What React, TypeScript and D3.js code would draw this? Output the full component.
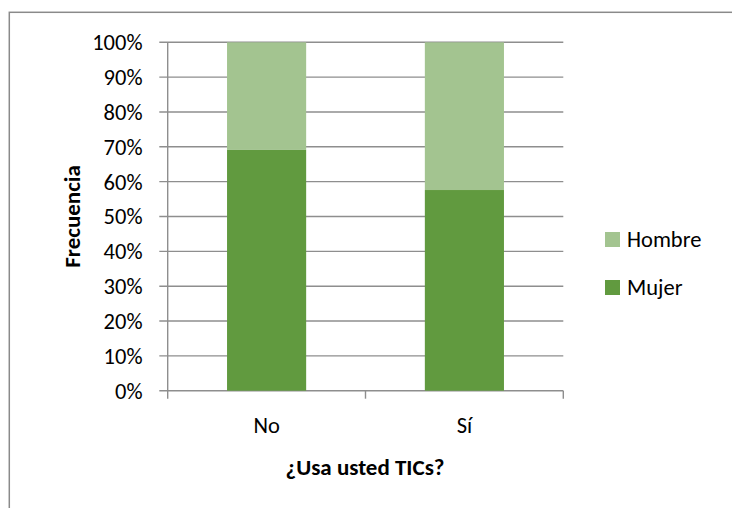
import React from "react";
import * as d3 from "d3";

const categories = ["No", "Sí"];
const seriesNames = ["Mujer", "Hombre"];
const mujer = [0.691, 0.576];
const hombre = [0.309, 0.424];
const yTicks = [0, 0.1, 0.2, 0.3, 0.4, 0.5, 0.6, 0.7, 0.8, 0.9, 1.0];
const xTitle = "¿Usa usted TICs?";
const yTitle = "Frecuencia";

const colors: Record<string, string> = { Mujer: "#619a3f", Hombre: "#a3c490" };

const W = 732;
const H = 508;
const FONT = "Carlito, Lato, 'Liberation Sans', sans-serif";

export default function App() {
  const x0 = 167.7;
  const x1 = 563.3;
  const yTop = 42.3;
  const yBot = 390.7;

  const x = d3.scaleBand<string>().domain(categories).range([x0, x1]).padding(0);
  const y = d3.scaleLinear().domain([0, 1]).range([yBot, yTop]);
  const barW = x.bandwidth() / 2.5;

  const rows = categories.map((c, i) => ({ cat: c, Mujer: mujer[i], Hombre: hombre[i] }));
  const stacked = d3.stack<any>().keys(seriesNames)(rows);
  const fmt = d3.format(".0%");

  const gridColor = "#8e8e8e";

  return (
    <svg
      width={W}
      height={H}
      style={{ position: "absolute", left: 0, top: 0, background: "#fff" }}
      fontFamily={FONT}
    >
      <rect x={9.3} y={12.3} width={W + 20} height={H + 20} fill="#fff" stroke="#8a8a8a" strokeWidth={1.5} />

      {/* gridlines */}
      {yTicks.map((t) => (
        <line key={t} x1={x0 - 8.4} x2={x1} y1={y(t)} y2={y(t)} stroke={gridColor} strokeWidth={1.4} />
      ))}

      {/* bars */}
      {stacked.map((s) =>
        s.map((d, i) => (
          <rect
            key={s.key + i}
            x={(x(categories[i]) as number) + x.bandwidth() / 2 - barW / 2}
            width={barW}
            y={y(d[1])}
            height={y(d[0]) - y(d[1])}
            fill={colors[s.key]}
          />
        ))
      )}

      {/* y axis line */}
      <line x1={x0} x2={x0} y1={yTop} y2={yBot} stroke={gridColor} strokeWidth={1.4} />
      {/* x axis ticks */}
      {[x0, ...categories.map((c) => (x(c) as number) + x.bandwidth())].map((v, i) => (
        <line key={i} x1={v} x2={v} y1={yBot} y2={yBot + 8} stroke={gridColor} strokeWidth={1.4} />
      ))}

      {/* y tick labels */}
      {yTicks.map((t) => (
        <text key={t} x={142.5} y={y(t)} dy="0.35em" textAnchor="end" fontSize={22.5} fill="#000">
          {fmt(t)}
        </text>
      ))}

      {/* x tick labels */}
      {categories.map((c) => (
        <text key={c} x={(x(c) as number) + x.bandwidth() / 2} y={433} textAnchor="middle" fontSize={22.5} fill="#000">
          {c}
        </text>
      ))}

      {/* axis titles */}
      <text x={365} y={475} textAnchor="middle" fontSize={23} fontWeight="bold" fill="#000">
        {xTitle}
      </text>
      <text
        transform={`translate(80, 216.5) rotate(-90)`}
        textAnchor="middle"
        fontSize={23}
        fontWeight="bold"
        fill="#000"
      >
        {yTitle}
      </text>

      {/* legend */}
      {["Hombre", "Mujer"].map((k, i) => {
        const cy = i === 0 ? 239.5 : 287.5;
        return (
          <g key={k}>
            <rect x={605} y={cy - 7.5} width={15} height={15} fill={colors[k]} />
            <text x={627} y={cy} dy="0.35em" fontSize={22.5} fill="#000">
              {k}
            </text>
          </g>
        );
      })}
    </svg>
  );
}
